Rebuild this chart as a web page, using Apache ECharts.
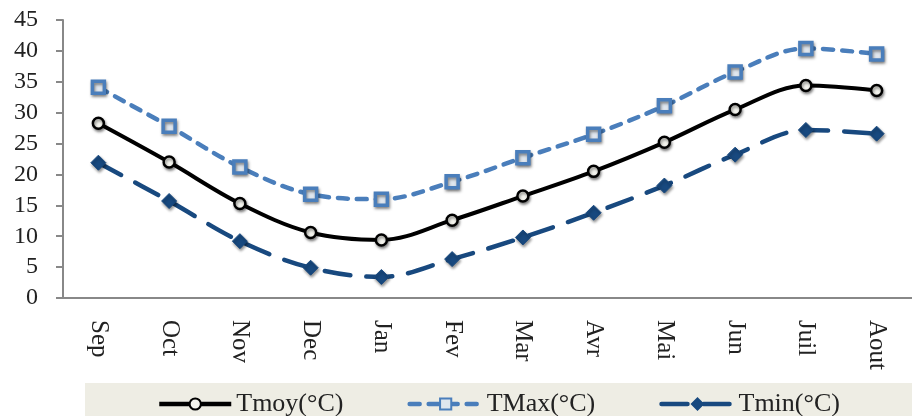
<!DOCTYPE html>
<html>
<head>
<meta charset="utf-8">
<script src="https://cdn.jsdelivr.net/npm/echarts@6/dist/echarts.min.js"></script>
<style>
  html, body { margin: 0; padding: 0; background: #fff; }
  #chart { width: 912px; height: 416px; }
</style>
</head>
<body>
<div id="chart"></div>
<script>
const months = ['Sep', 'Oct', 'Nov', 'Dec', 'Jan', 'Fev', 'Mar', 'Avr', 'Mai', 'Jun', 'Juil', 'Aout']
const tmoy = [28.3, 22.0, 15.3, 10.6, 9.4, 12.6, 16.5, 20.5, 25.2, 30.5, 34.4, 33.6]
const tmax = [34.1, 27.8, 21.2, 16.8, 16.0, 18.8, 22.7, 26.5, 31.1, 36.6, 40.4, 39.5]
const tmin = [21.9, 15.7, 9.2, 4.9, 3.4, 6.3, 9.8, 13.8, 18.2, 23.2, 27.2, 26.6]

const serif = 'Liberation Serif'
const markShadow = { shadowBlur: 3, shadowColor: 'rgba(0,0,0,0.45)', shadowOffsetX: 1, shadowOffsetY: 2 }

const chart = echarts.init(document.getElementById('chart'))
chart.setOption({
  animation: false,
  textStyle: { fontFamily: serif, color: '#222' },
  graphic: [{
    type: 'rect',
    shape: { x: 85, y: 383, width: 827, height: 33 },
    style: { fill: '#eeede4' },
    z: -1
  }],
  legend: {
    top: 386,
    left: 152,
    itemWidth: 72,
    itemHeight: 14,
    itemGap: 64,
    textStyle: { fontFamily: serif, fontSize: 26, color: '#222' },
    data: [
      { name: 'Tmoy(°C)', lineStyle: { width: 4.5 } },
      { name: 'TMax(°C)', lineStyle: { width: 4.5 } },
      { name: 'Tmin(°C)', lineStyle: { width: 4.5 } }
    ]
  },
  grid: { left: 63, right: -7, top: 20, bottom: 118 },
  xAxis: {
    type: 'category',
    data: months,
    axisLine: { lineStyle: { color: '#888', width: 2 } },
    axisTick: { alignWithLabel: true, length: 6, lineStyle: { color: '#888', width: 2 } },
    axisLabel: { rotate: -90, margin: 22, fontSize: 25, fontFamily: serif, color: '#222' }
  },
  yAxis: {
    type: 'value',
    min: 0,
    max: 45,
    interval: 5,
    splitLine: { show: false },
    axisLine: { show: true, lineStyle: { color: '#888', width: 2 } },
    axisTick: { show: true, length: 7, lineStyle: { color: '#888', width: 2 } },
    axisLabel: { margin: 25, fontSize: 24, fontFamily: serif, color: '#222' }
  },
  series: [
    {
      name: 'Tmoy(°C)',
      type: 'line',
      smooth: 0.35,
      data: tmoy,
      symbol: 'circle',
      symbolSize: 11,
      lineStyle: { color: '#000', width: 4 },
      itemStyle: Object.assign({ color: '#f4f4ee', borderColor: '#000', borderWidth: 2.5 }, markShadow),
      z: 3
    },
    {
      name: 'TMax(°C)',
      type: 'line',
      smooth: 0.35,
      data: tmax,
      symbol: 'rect',
      symbolSize: 12,
      lineStyle: { color: '#4a7ebb', width: 4.5, type: [10, 9], cap: 'round' },
      itemStyle: Object.assign({ color: '#dfe6ee', borderColor: '#4a7ebb', borderWidth: 3.5 }, markShadow),
      z: 2
    },
    {
      name: 'Tmin(°C)',
      type: 'line',
      smooth: 0.35,
      data: tmin,
      symbol: 'diamond',
      symbolSize: 15,
      lineStyle: { color: '#18497f', width: 4.5, type: [26, 16], cap: 'round' },
      itemStyle: Object.assign({ color: '#18497f', borderColor: '#18497f', borderWidth: 1 }, markShadow),
      z: 2
    }
  ]
})
</script>
</body>
</html>
